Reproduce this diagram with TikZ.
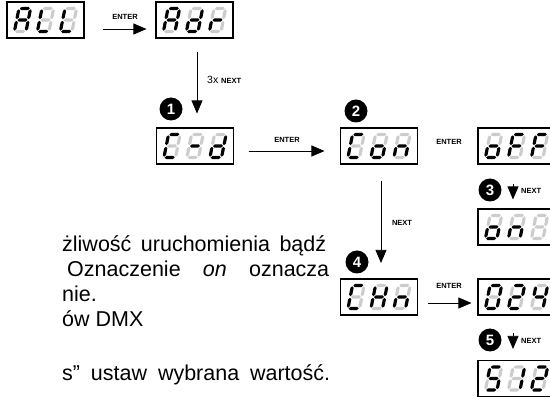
\documentclass[tikz,border=0pt]{standalone}
\usepackage{fontspec}
\setmainfont{Liberation Sans}
\usetikzlibrary{arrows.meta}
\definecolor{segoff}{gray}{0.80}
\tikzset{
  disp/.style={draw, line width=1.1pt, minimum width=77pt, minimum height=36pt, inner sep=0pt},
  badge/.style={circle, fill=black, text=white, font=\bfseries\fontsize{15}{15}\selectfont, minimum size=23pt, inner sep=0pt},
  keylbl/.style={font=\bfseries\fontsize{7.5}{8}\selectfont, inner sep=1pt},
  flow/.style={line width=0.7pt, -{Triangle[length=13pt,width=11pt]}},
  body/.style={font=\fontsize{21.5}{24}\selectfont, inner sep=0pt, anchor=base west},
}
\newcommand\segcol[1]{\ifnum#1=1 \def\segc{black}\else\def\segc{segoff}\fi}
\newcommand\hseg[4]{\segcol{#1}\fill[fill=\segc] (#2,#4) -- (#2+1.6,#4-1.6) -- (#3-1.6,#4-1.6) -- (#3,#4) -- (#3-1.6,#4+1.6) -- (#2+1.6,#4+1.6) -- cycle;}
\newcommand\vseg[4]{\segcol{#1}\fill[fill=\segc] (#2,#3) -- (#2+1.6,#3+1.6) -- (#2+1.6,#4-1.6) -- (#2,#4) -- (#2-1.6,#4-1.6) -- (#2-1.6,#3+1.6) -- cycle;}
\def\sdp#1#2#3#4#5#6#7\relax{%
  \hseg{#1}{-5.0}{5.0}{-11.5}%
  \vseg{#2}{5.8}{-10.7}{-0.8}%
  \vseg{#3}{5.8}{0.8}{10.7}%
  \hseg{#4}{-5.0}{5.0}{11.5}%
  \vseg{#5}{-5.8}{0.8}{10.7}%
  \vseg{#6}{-5.8}{-10.7}{-0.8}%
  \hseg{#7}{-5.0}{5.0}{0}}
\newcommand\sd[3]{\begin{scope}[shift={(#1,#2)}, xslant=0.2]\sdp#3\relax\end{scope}}
\newcommand\disp[6]{%
  \node[disp] (#1) at (#2,#3) {};
  \sd{#2-23}{#3}{#4}\sd{#2}{#3}{#5}\sd{#2+23}{#3}{#6}}
\begin{document}
\begin{tikzpicture}[x=1pt,y=-1pt]
\useasboundingbox (0,0) rectangle (550,398);
% displays
\disp{all}{45.5}{20}{1110111}{0001110}{0001110}
\disp{adr}{194.5}{20}{1110111}{0111101}{0000101}
\disp{cd}{195}{146}{1001110}{0000001}{0111101}
\disp{con}{379}{146}{1001110}{0011101}{0010101}
\disp{off}{516.5}{146}{0011101}{1000111}{1000111}
\disp{on}{516.5}{227}{0011101}{0010101}{0000000}
\disp{chn}{379}{297}{1001110}{0110111}{0010101}
\disp{dmx}{516.5}{297}{1111110}{1101101}{0110011}
\disp{last}{516.5}{378.5}{1011011}{0110000}{1101101}
% badges
\node[badge] (b1) at (171,109) {1};
\node[badge] (b2) at (356,111) {2};
\node[badge] (b3) at (490,190) {3};
\node[badge] (b4) at (357,262) {4};
\node[badge] (b5) at (490,340) {5};
% connectors
\draw[flow] ([shift={(18,9)}]all.east) -- ([shift={(-9,9)}]adr.west);
\node[keylbl] (e1) at (125,17) {ENTER};
\draw[flow] ([shift={(2.5,13)}]adr.south) -- ([shift={(2,-14)}]cd.north);
\node[anchor=west, inner sep=0pt] (n1) at (207,80) {\fontsize{10.5}{10}\selectfont 3x \bfseries\fontsize{7.5}{7}\selectfont NEXT};
\draw[flow] ([shift={(14.5,5)}]cd.east) -- ([shift={(-15.5,5)}]con.west);
\node[keylbl] (e2) at (287,140) {ENTER};
\node[keylbl] (e3) at (449,142) {ENTER};
\draw[flow] ([shift={(2,16)}]con.south) -- ([shift={(2,-15.5)}]chn.north);
\node[keylbl] (n2) at (402,223) {NEXT};
\draw[flow] ([shift={(-3.5,19)}]off.south) -- ([shift={(-3.5,-9)}]on.north);
\node[keylbl, anchor=west] (n3) at (520,191) {NEXT};
\draw[flow] ([shift={(9.5,6)}]chn.east) -- ([shift={(-6,6)}]dmx.west);
\node[keylbl] (e4) at (449,286) {ENTER};
\draw[flow] ([shift={(-3.5,17.5)}]dmx.south) -- ([shift={(-3.5,-11)}]last.north);
\node[keylbl, anchor=west] (n4) at (520,341) {NEXT};
% body text
\node[body] (t1) at (62,252) {\makebox[264pt][s]{żliwość uruchomienia bądź}};
\node[body] (t2) at (67,277) {\makebox[262pt][s]{Oznaczenie \textit{on} oznacza}};
\node[body] (t3) at (62,302) {nie.};
\node[body] (t4) at (62,327) {ów DMX};
\node[body] (t5) at (62,381) {\makebox[268pt][s]{s” ustaw wybrana wartość.}};
\end{tikzpicture}
\end{document}
